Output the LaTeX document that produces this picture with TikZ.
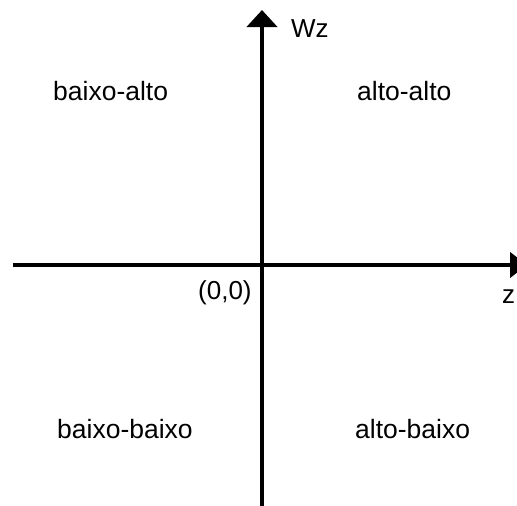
\documentclass[tikz,border=0pt]{standalone}
\usepackage{fontspec}
\setmainfont{Liberation Sans}
\usetikzlibrary{arrows.meta,positioning}

\begin{document}
\begin{tikzpicture}[
    x=1pt, y=-1pt,
    axis/.style={draw, line width=4.5pt},
    quad/.style={font=\fontsize{26.5}{30}\selectfont, inner sep=0pt, anchor=base west},
    lbl/.style={font=\fontsize{26}{30}\selectfont, inner sep=0pt, anchor=base west}
  ]
  \useasboundingbox (0,0) rectangle (517,506);
  \clip (0,0) rectangle (517,506);

  % Axes
  \coordinate (xstart) at (13,265);
  \coordinate (xend) at (527,265);
  \coordinate (ystart) at (262,510);
  \coordinate (yend) at (262,10);
  \draw[axis, -{Triangle[width=25pt,length=17pt]}] (xstart) -- (xend);
  \draw[axis, -{Triangle[width=30pt,length=17pt]}] (ystart) -- (yend);

  % Axis labels
  \node[lbl] (wz) at (291,37) {Wz};
  \node[lbl] (z) at (502,303) {z};
  \node[lbl] (origin) at (198,299) {(0,0)};

  % Quadrants
  \node[quad] (baixoalto) at (53,100) {baixo-alto};
  \node[quad] (altoalto) at (357,100) {alto-alto};
  \node[quad] (baixobaixo) at (57,438) {baixo-baixo};
  \node[quad] (altobaixo) at (355,438) {alto-baixo};
\end{tikzpicture}
\end{document}
